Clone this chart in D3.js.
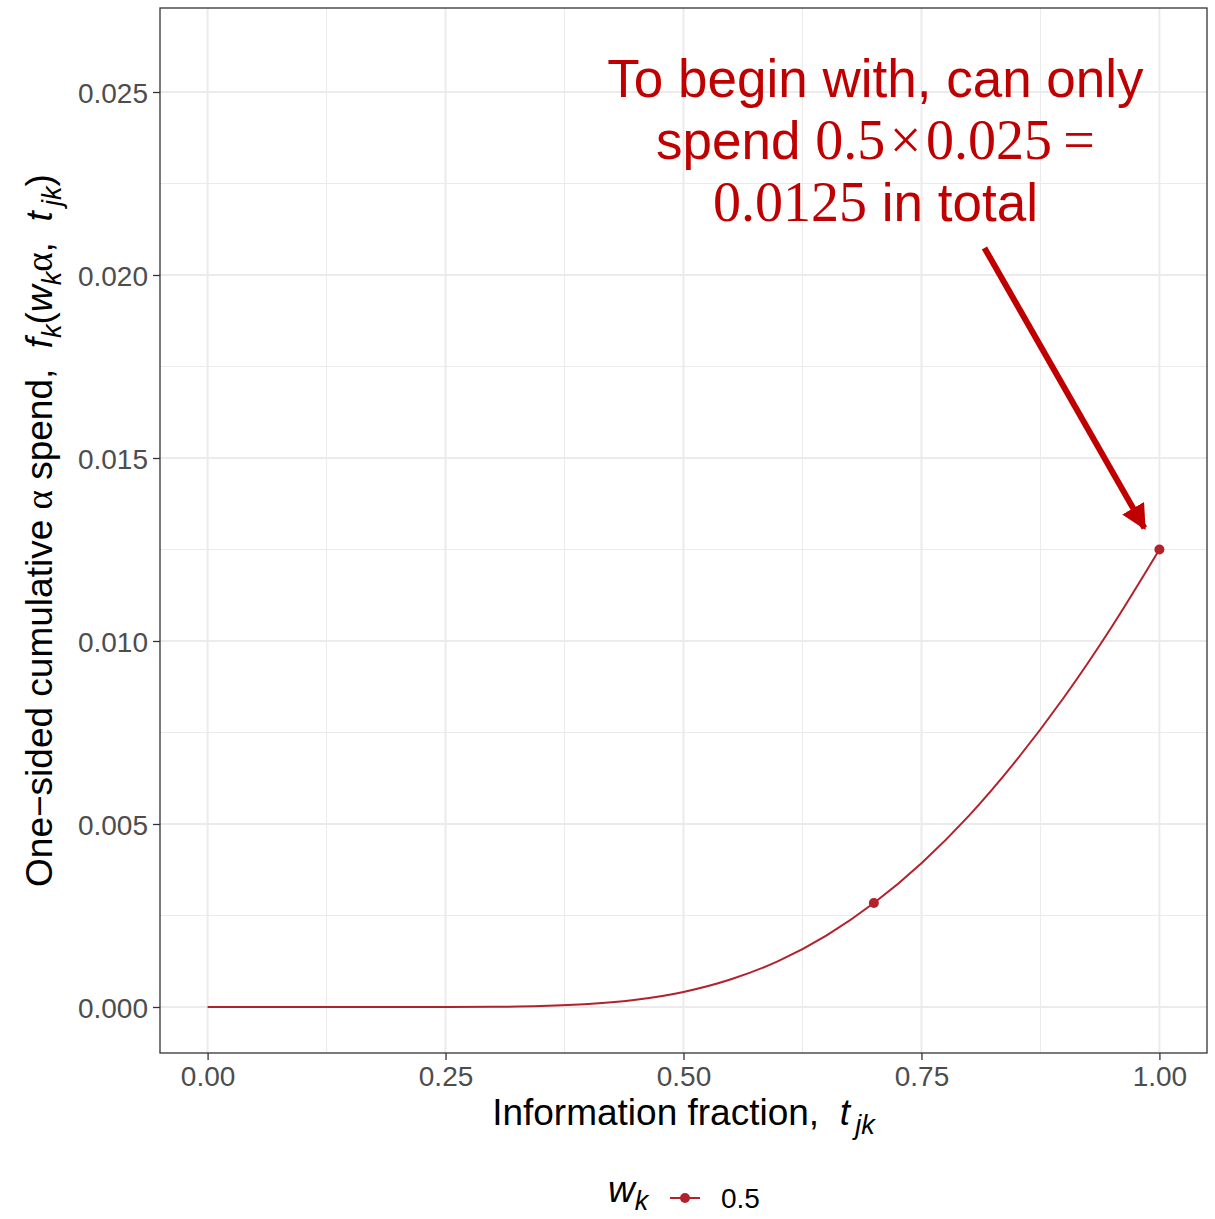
<!DOCTYPE html>
<html><head><meta charset="utf-8">
<script src="https://cdn.jsdelivr.net/npm/d3@7"></script>
<style>body{margin:0;background:#fff}svg{display:block}</style>
</head><body>
<svg id="c" width="1215" height="1219"></svg>
<script>
// ---- data ----
const infoFraction = [0,0.05,0.1,0.15,0.2,0.25,0.3,0.35,0.4,0.45,0.5,0.55,0.6,0.65,0.7,0.75,0.8,0.85,0.9,0.95,1.0];
const cumSpend = [0,0,0,0,0.00000001,0.0000006,0.0000051,0.000024,0.000079,0.000197,0.000412,0.000758,0.00126,0.00195,0.00284,0.00393,0.00523,0.00675,0.00847,0.01039,0.0125];
const pointT = [0.7, 1.0];
const pointSpend = [0.00284, 0.0125];
const xTicks = [0, 0.25, 0.5, 0.75, 1.0];
const xTickLabels = ["0.00","0.25","0.50","0.75","1.00"];
const yTicks = [0, 0.005, 0.010, 0.015, 0.020, 0.025];
const yTickLabels = ["0.000","0.005","0.010","0.015","0.020","0.025"];
const legendLabels = ["0.5"];
const arrowFrom = [0.8162, 0.02074];
const arrowTo = [0.9842, 0.01309];
const noteAnchor = [0.7017, 0.02486];

const svg = d3.select("#c");
const L=160,R=1207,T=8,B=1053;
const x = d3.scaleLinear().domain([-0.05,1.05]).range([L,R]);
const y = d3.scaleLinear().domain([-0.001257,0.027295]).range([B,T]);
const sans = "'Liberation Sans', Arial, Helvetica, sans-serif";
const serif = "'Liberation Serif', 'DejaVu Serif', serif";
const lineCol = "#B2222B", noteCol = "#C00000";

// grid
const g = svg.append("g");
const xMinor = [0.125,0.375,0.625,0.875];
const yMinor = [0.0025,0.0075,0.0125,0.0175,0.0225];
g.selectAll(".xm").data(xMinor).join("line").attr("x1",d=>x(d)).attr("x2",d=>x(d)).attr("y1",T).attr("y2",B).attr("stroke","#EBEBEB").attr("stroke-width",1);
g.selectAll(".ym").data(yMinor).join("line").attr("y1",d=>y(d)).attr("y2",d=>y(d)).attr("x1",L).attr("x2",R).attr("stroke","#EBEBEB").attr("stroke-width",1);
g.selectAll(".xM").data(xTicks).join("line").attr("x1",d=>x(d)).attr("x2",d=>x(d)).attr("y1",T).attr("y2",B).attr("stroke","#EBEBEB").attr("stroke-width",2);
g.selectAll(".yM").data(yTicks).join("line").attr("y1",d=>y(d)).attr("y2",d=>y(d)).attr("x1",L).attr("x2",R).attr("stroke","#EBEBEB").attr("stroke-width",2);

// axes
const xAxis = d3.axisBottom(x).tickValues(xTicks).tickFormat((d,i)=>xTickLabels[i]).tickSize(7).tickPadding(6);
const yAxis = d3.axisLeft(y).tickValues(yTicks).tickFormat((d,i)=>yTickLabels[i]).tickSize(7).tickPadding(5);
const gx = svg.append("g").attr("transform",`translate(0,${B})`).call(xAxis);
const gy = svg.append("g").attr("transform",`translate(${L},0)`).call(yAxis);
[gx,gy].forEach(a=>{
  a.select(".domain").remove();
  a.selectAll(".tick line").attr("stroke","#333333").attr("stroke-width",1.3);
  a.selectAll(".tick text").attr("fill","#4D4D4D").style("font-family",sans).style("font-size","28px");
});
gy.selectAll(".tick text").attr("dy","0.36em");

// panel border
svg.append("rect").attr("x",L).attr("y",T).attr("width",R-L).attr("height",B-T).attr("fill","none").attr("stroke","#333333").attr("stroke-width",1.3);

// line
const data = infoFraction.map((t,i)=>[t,cumSpend[i]]);
svg.append("path").datum(data).attr("fill","none").attr("stroke",lineCol).attr("stroke-width",2)
  .attr("d",d3.line().x(d=>x(d[0])).y(d=>y(d[1])).curve(d3.curveMonotoneX));
svg.selectAll(".pt").data(pointT.map((t,i)=>[t,pointSpend[i]])).join("circle")
  .attr("cx",d=>x(d[0])).attr("cy",d=>y(d[1])).attr("r",5).attr("fill",lineCol);

// arrow
const defs = svg.append("defs");
defs.append("marker").attr("id","ah").attr("viewBox","0 0 10 10").attr("refX",9).attr("refY",5)
  .attr("markerWidth",4.2).attr("markerHeight",4.2).attr("markerUnits","strokeWidth").attr("orient","auto")
  .append("path").attr("d","M0,0 L10,5 L0,10 z").attr("fill",noteCol);
svg.append("line").attr("x1",x(arrowFrom[0])).attr("y1",y(arrowFrom[1])).attr("x2",x(arrowTo[0])).attr("y2",y(arrowTo[1]))
  .attr("stroke",noteCol).attr("stroke-width",6).attr("marker-end","url(#ah)");

// annotation text
const nx = x(noteAnchor[0]), ny = y(noteAnchor[1]);
const note = svg.append("g").style("font-size","53px").attr("fill",noteCol);
note.append("text").attr("x",nx).attr("y",ny).attr("text-anchor","middle").style("font-family",sans).text("To begin with, can only");
const l2 = note.append("text").attr("x",nx).attr("y",ny+62).attr("text-anchor","middle").style("font-family",sans);
l2.append("tspan").text("spend ");
l2.append("tspan").style("font-family",serif).style("font-size","56px").text("0.5\u200A×\u200A0.025\u2009=");
const l3 = note.append("text").attr("x",nx).attr("y",ny+124).attr("text-anchor","middle").style("font-family",sans);
l3.append("tspan").style("font-family",serif).style("font-size","56px").text("0.0125");
l3.append("tspan").text(" in total");

// x title
const xt = svg.append("text").attr("x",(L+R)/2).attr("y",1125).attr("text-anchor","middle")
  .style("font-family",sans).style("font-size","37px").attr("fill","#000");
xt.append("tspan").text("Information fraction,\u00a0\u00a0");
xt.append("tspan").style("font-style","italic").text("t");
xt.append("tspan").style("font-style","italic").style("font-size","27px").attr("dy",9).text("\u2009jk");

// y title
const yt = svg.append("text").attr("transform",`translate(52,${(T+B)/2}) rotate(-90)`).attr("text-anchor","middle")
  .style("font-family",sans).style("font-size","37px").attr("fill","#000");
yt.append("tspan").text("One\u2212sided cumulative ");
yt.append("tspan").style("font-family",serif).text("α");
yt.append("tspan").text(" spend,\u00a0\u00a0");
yt.append("tspan").style("font-style","italic").text("f");
yt.append("tspan").style("font-style","italic").style("font-size","27px").attr("dy",9).text("k");
yt.append("tspan").attr("dy",-9).text("(");
yt.append("tspan").style("font-style","italic").text("w");
yt.append("tspan").style("font-style","italic").style("font-size","27px").attr("dy",9).text("k");
yt.append("tspan").attr("dy",-9).style("font-family",serif).text("α");
yt.append("tspan").text(",\u00a0\u00a0");
yt.append("tspan").style("font-style","italic").text("t");
yt.append("tspan").style("font-style","italic").style("font-size","27px").attr("dy",9).text("\u2009jk");
yt.append("tspan").attr("dy",-9).text(")");

// legend
const lg = svg.append("g");
const lt = lg.append("text").attr("x",608).attr("y",1202).style("font-family",sans).style("font-size","37px").attr("fill","#000");
lt.append("tspan").style("font-style","italic").text("w");
lt.append("tspan").style("font-style","italic").style("font-size","27px").attr("dy",8).text("k");
lg.append("line").attr("x1",670).attr("x2",700).attr("y1",1198).attr("y2",1198).attr("stroke",lineCol).attr("stroke-width",2);
lg.append("circle").attr("cx",685).attr("cy",1198).attr("r",5).attr("fill",lineCol);
lg.selectAll(".ll").data(legendLabels).join("text").attr("x",721).attr("y",1208).style("font-family",sans).style("font-size","28px").attr("fill","#000").text(d=>d);
</script>
</body></html>
